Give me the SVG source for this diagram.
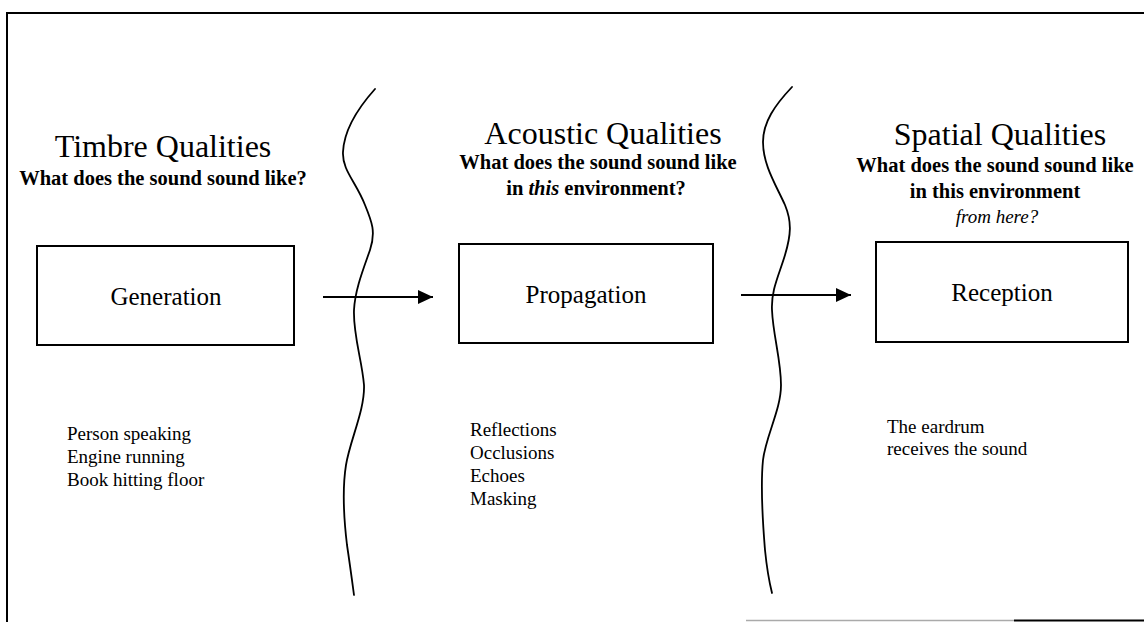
<svg xmlns="http://www.w3.org/2000/svg" width="1144" height="622" viewBox="0 0 1144 622">
<defs>
<style>
.frame{fill:none;stroke:#000;stroke-width:2}
.box{fill:#fff;stroke:#000;stroke-width:2}
.wave{fill:none;stroke:#000;stroke-width:1.8;stroke-linecap:round;stroke-linejoin:round}
.edge{fill:none;stroke:#000;stroke-width:2}
.t{font-family:"Liberation Serif","Times New Roman",serif;fill:#000}
.h1{font-size:32px}
.h2{font-size:20.5px;font-weight:bold}
.lab{font-size:25px}
.lst{font-size:19px}
</style>
<marker id="ah" markerWidth="16" markerHeight="14" refX="15" refY="7" orient="auto" markerUnits="userSpaceOnUse">
<path d="M0,0 L15,7 L0,14 Z" fill="#000"/>
</marker>
</defs>
<rect width="1144" height="622" fill="#fff"/>
<g id="frame">
<path class="frame" d="M7,622 L7,13 L1144,13"/>
<path d="M746,620.5 L1014,620.5" stroke="#aaa" stroke-width="1.5" fill="none"/>
<path d="M1014,620.5 L1144,620.5" stroke="#000" stroke-width="2" fill="none"/>
</g>
<g id="dividers">
<path class="wave" d="M375,89 C358,108 344,130 343,152 C342,170 356,182 365,205 C372,222 376,232 370,250 C363,270 355,290 354,310 C353,335 362,360 364,385 C365,410 350,440 346,465 C342,490 344,520 347,545 C350,565 352,580 354,595"/>
<path class="wave" d="M792,87 C775,105 763,122 763,142 C763,165 776,185 785,205 C792,222 791,235 785,255 C779,275 771,290 772,310 C773,335 781,360 781,385 C781,410 766,435 763,460 C760,490 763,525 765,550 C767,570 770,585 772,593"/>
</g>
<g id="headings" class="t" text-anchor="middle">
<text class="h1" x="163" y="157">Timbre Qualities</text>
<text class="h2" x="163" y="185">What does the sound sound like?</text>
<text class="h1" x="603" y="144">Acoustic Qualities</text>
<text class="h2" x="598" y="169">What does the sound sound like</text>
<text class="h2" x="596" y="195">in <tspan font-style="italic">this</tspan> environment?</text>
<text class="h1" x="1000" y="145">Spatial Qualities</text>
<text class="h2" x="995" y="172">What does the sound sound like</text>
<text class="h2" x="995" y="198">in this environment</text>
<text x="997" y="223" font-size="19" font-style="italic">from here?</text>
</g>
<g id="generation">
<rect class="box" x="37" y="246" width="257" height="99"/>
<text class="t lab" x="166" y="305" text-anchor="middle">Generation</text>
</g>
<g id="propagation">
<rect class="box" x="459" y="244" width="254" height="99"/>
<text class="t lab" x="586" y="303" text-anchor="middle">Propagation</text>
</g>
<g id="reception">
<rect class="box" x="876" y="242" width="252" height="100"/>
<text class="t lab" x="1002" y="301" text-anchor="middle">Reception</text>
</g>
<g id="connectors">
<path class="edge" d="M323,297 L433,297" marker-end="url(#ah)"/>
<path class="edge" d="M741,295 L851,295" marker-end="url(#ah)"/>
</g>
<g id="examples" class="t lst">
<text x="67" y="440">Person speaking</text>
<text x="67" y="463">Engine running</text>
<text x="67" y="486">Book hitting floor</text>
<text x="470" y="436">Reflections</text>
<text x="470" y="459">Occlusions</text>
<text x="470" y="482">Echoes</text>
<text x="470" y="505">Masking</text>
<text x="887" y="433">The eardrum</text>
<text x="887" y="455">receives the sound</text>
</g>
</svg>
